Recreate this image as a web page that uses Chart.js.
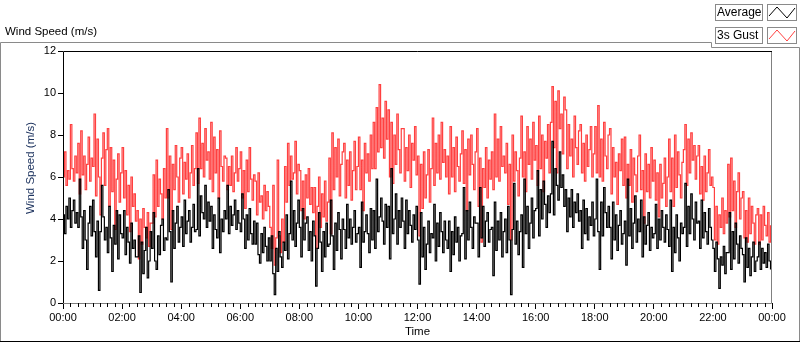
<!DOCTYPE html>
<html>
<head>
<meta charset="utf-8">
<script src="https://cdn.jsdelivr.net/npm/chart.js@4.4.1/dist/chart.umd.min.js"></script>
<style>
body { margin: 0; background: #fff; }
#wrap { width: 800px; height: 342px; }
</style>
</head>
<body>
<div id="wrap"><canvas id="windChart" width="800" height="342"></canvas></div>
<script>
// samples every 3 minutes, 00:00 -> 23:57
const sampleMinutes = 3;
const xTickLabels = ["00:00", "02:00", "04:00", "06:00", "08:00", "10:00", "12:00",
                     "14:00", "16:00", "18:00", "20:00", "22:00", "00:00"];
const yTicks = [0, 2, 4, 6, 8, 10, 12];

// average wind speed (black), ten values per half hour
const average = [
  4.2, 3.3, 4.6, 4.0, 5.0, 3.6, 4.4, 4.9, 3.8, 4.3,
  3.6, 5.9, 4.1, 2.6, 4.4, 3.0, 1.6, 3.8, 4.6, 3.2,
  4.9, 3.4, 2.2, 3.9, 0.6, 3.4, 5.6, 4.1, 3.0, 3.6,
  2.4, 4.6, 3.1, 1.5, 3.7, 2.8, 4.4, 2.1, 4.2, 3.3,
  3.1, 4.4, 2.3, 3.6, 2.9, 1.9, 3.8, 2.6, 3.0, 2.2,
  2.2, 3.2, 0.5, 2.9, 1.4, 2.5, 3.6, 1.2, 2.0, 3.4,
  2.6, 4.3, 2.0, 1.6, 3.2, 2.3, 3.7, 4.0, 2.5, 3.1,
  3.0, 5.4, 3.4, 1.0, 4.4, 2.6, 3.8, 4.6, 2.9, 3.6,
  4.1, 2.7, 4.9, 3.3, 3.9, 4.4, 2.9, 3.6, 4.7, 3.4,
  3.5, 6.4, 3.2, 5.1, 4.3, 4.0, 5.6, 3.6, 4.8, 3.9,
  4.6, 2.6, 4.2, 3.5, 3.1, 5.0, 2.4, 4.0, 3.4, 4.4,
  4.0, 5.6, 3.3, 4.6, 3.7, 4.2, 4.9, 3.5, 4.4, 3.8,
  3.4, 5.2, 4.0, 2.6, 4.2, 3.0, 4.5, 3.3, 2.8, 3.9,
  2.8, 3.8, 2.3, 1.9, 3.3, 2.4, 3.6, 2.7, 2.0, 3.1,
  2.0, 3.2, 1.4, 0.4, 2.6, 1.5, 3.4, 2.2, 1.7, 2.9,
  2.5, 4.2, 2.1, 3.3, 5.8, 3.0, 4.4, 2.7, 3.8, 4.9,
  3.6, 2.2, 4.5, 3.0, 3.8, 4.1, 2.5, 3.4, 2.0, 3.9,
  3.2, 0.8, 2.6, 4.3, 2.9, 1.5, 3.4, 2.2, 3.8, 2.7,
  2.8, 4.9, 3.2, 1.6, 3.8, 2.5, 4.3, 3.5, 2.1, 4.0,
  3.5, 2.6, 4.7, 3.1, 4.0, 2.8, 3.6, 4.4, 2.9, 3.3,
  3.6, 1.7, 4.8, 2.9, 3.4, 4.2, 3.3, 2.4, 4.5, 3.0,
  4.4, 2.6, 5.9, 3.4, 4.1, 5.0, 3.9, 2.8, 4.7, 3.6,
  4.6, 2.1, 6.4, 3.3, 4.0, 5.2, 2.8, 4.4, 3.6, 5.0,
  3.9, 2.6, 4.9, 3.3, 4.4, 3.7, 2.9, 4.2, 3.5, 4.6,
  3.0, 0.9, 4.3, 2.2, 3.6, 1.6, 2.8, 3.9, 2.4, 3.3,
  3.1, 4.7, 2.0, 3.8, 2.7, 4.3, 3.4, 2.4, 3.9, 3.0,
  2.6, 3.9, 1.5, 3.4, 2.3, 4.1, 2.9, 3.6, 2.0, 3.2,
  3.3, 5.5, 2.1, 4.4, 3.0, 4.8, 3.6, 2.6, 4.1, 3.8,
  3.8, 2.2, 5.5, 3.1, 4.6, 2.7, 3.9, 4.3, 2.9, 3.5,
  3.6, 1.3, 4.8, 2.5, 3.9, 3.0, 4.3, 2.2, 3.4, 4.0,
  2.4, 4.6, 3.0, 0.4, 3.5, 5.7, 2.8, 3.9, 2.3, 3.4,
  4.2, 1.7, 5.9, 3.3, 4.6, 2.6, 3.8, 5.0, 3.1, 4.4,
  4.5, 6.3, 3.2, 5.4, 4.0, 5.8, 4.7, 3.6, 5.1, 4.3,
  5.2, 7.7, 4.2, 6.4, 5.6, 4.9, 7.2, 5.5, 6.1, 4.6,
  5.4, 3.4, 5.0, 4.1, 5.4, 3.6, 4.8, 4.3, 5.2, 3.9,
  4.4, 2.6, 4.9, 3.3, 4.5, 3.0, 4.1, 3.7, 4.8, 3.2,
  4.0, 5.9, 3.4, 1.6, 4.8, 3.2, 5.5, 4.3, 3.6, 4.6,
  3.6, 2.1, 4.8, 3.0, 4.2, 2.5, 3.7, 4.4, 2.8, 3.3,
  3.9, 1.8, 5.9, 3.2, 4.5, 2.6, 3.8, 5.1, 2.9, 4.0,
  3.4, 4.9, 2.2, 4.1, 2.8, 3.7, 4.3, 2.5, 3.6, 3.1,
  3.3, 4.7, 2.6, 4.0, 3.0, 4.4, 3.6, 2.9, 4.2, 3.5,
  2.7, 4.9, 1.5, 3.6, 2.4, 4.2, 3.1, 2.0, 3.8, 3.3,
  3.6, 5.7, 2.7, 4.6, 3.3, 5.2, 4.0, 3.0, 4.8, 3.8,
  3.9, 2.6, 4.9, 3.1, 4.3, 3.4, 2.8, 4.5, 3.6, 3.0,
  2.6, 1.5, 2.9, 2.1, 0.7, 2.2, 1.8, 2.7, 1.4, 2.4,
  2.4, 4.3, 1.6, 3.4, 2.1, 3.8, 2.8, 1.9, 3.2, 2.6,
  2.3, 1.0, 3.1, 1.7, 2.6, 1.3, 2.2, 2.9, 1.5, 2.0,
  2.2, 2.9, 1.6, 2.6, 1.9, 2.4, 1.7, 2.8, 2.0, 1.6
];

// 3 second gust (red)
const gust = [
  6.0, 7.2, 5.6, 6.3, 5.9, 8.5, 6.4, 5.8, 7.0, 6.2,
  7.6, 5.2, 8.2, 6.1, 7.0, 5.4, 6.6, 7.9, 5.8, 6.9,
  6.5, 9.0, 5.1, 7.8, 6.0, 4.2, 6.9, 8.1, 5.6, 7.3,
  8.3, 4.6, 7.4, 5.3, 6.8, 3.5, 5.9, 7.1, 4.8, 6.2,
  7.4, 5.0, 6.3, 4.2, 5.6, 3.4, 6.0, 4.6, 5.2, 3.9,
  4.4, 2.1, 4.0, 2.8, 4.5, 3.6, 3.1, 4.3, 2.7, 3.8,
  3.8, 6.1, 4.1, 6.8, 4.6, 5.9, 5.2, 4.0, 6.4, 5.0,
  8.3, 5.0, 7.0, 3.5, 6.6, 5.4, 7.5, 6.0, 4.8, 6.9,
  7.4, 5.2, 6.7, 5.9, 7.1, 5.0, 6.2, 7.5, 5.6, 6.4,
  8.1, 5.7, 8.8, 6.4, 7.6, 6.0, 8.3, 6.8, 7.2, 5.9,
  8.6, 5.3, 7.9, 6.2, 7.3, 5.0, 8.2, 6.5, 5.8, 7.0,
  6.9, 5.4, 6.5, 5.6, 7.0, 5.3, 6.2, 7.4, 5.8, 6.4,
  7.2, 5.0, 6.3, 4.5, 6.8, 5.3, 7.4, 5.9, 4.9, 6.1,
  5.8, 4.2, 6.2, 4.8, 5.1, 4.0, 5.6, 4.4, 5.3, 4.6,
  3.6, 2.6, 5.6, 1.8, 3.1, 6.8, 3.2, 2.4, 4.0, 2.9,
  6.5, 4.8, 7.6, 5.6, 7.0, 5.9, 6.2, 7.7, 5.2, 6.6,
  6.3, 4.4, 5.8, 4.0, 6.1, 5.0, 6.4, 4.7, 5.5, 4.3,
  5.5, 2.6, 4.6, 6.0, 3.6, 5.2, 4.1, 5.8, 3.9, 4.8,
  6.9, 3.3, 8.1, 5.4, 7.4, 6.0, 7.8, 5.1, 6.6, 7.2,
  7.6, 5.0, 6.8, 5.6, 7.2, 4.9, 6.3, 7.7, 5.4, 6.5,
  7.9, 5.4, 6.8, 4.4, 7.6, 6.2, 7.1, 5.8, 8.0, 6.4,
  8.6, 6.4, 9.3, 7.2, 10.4, 7.4, 8.8, 6.9, 9.6, 7.8,
  9.2, 6.0, 8.6, 5.7, 8.0, 6.6, 9.0, 7.3, 6.2, 8.3,
  8.3, 5.8, 7.4, 6.3, 8.0, 5.5, 7.6, 6.8, 8.4, 6.1,
  7.0, 3.2, 6.6, 4.5, 7.2, 5.0, 6.1, 7.3, 4.8, 6.4,
  8.8, 5.6, 7.6, 6.2, 8.0, 5.9, 8.6, 6.7, 7.3, 6.0,
  7.0, 5.2, 8.4, 6.0, 7.4, 5.3, 7.9, 6.5, 5.8, 7.1,
  8.2, 5.7, 7.3, 4.4, 7.8, 6.1, 8.0, 6.6, 5.4, 7.2,
  8.3, 4.6, 6.9, 2.9, 6.4, 5.5, 7.4, 5.0, 6.8, 5.9,
  7.2, 5.4, 9.0, 6.0, 7.8, 5.8, 8.4, 6.5, 7.0, 6.2,
  7.6, 4.7, 6.6, 3.0, 8.0, 5.8, 7.2, 6.3, 5.1, 6.9,
  8.9, 6.0, 7.2, 5.3, 8.4, 6.6, 7.8, 5.9, 8.6, 6.8,
  7.5, 5.6, 8.9, 6.4, 8.0, 5.3, 7.7, 6.9, 8.5, 6.2,
  8.6, 10.3, 7.4, 9.6, 6.2, 10.1, 8.3, 9.0, 7.1, 9.8,
  9.2, 6.4, 8.5, 7.0, 7.8, 6.0, 8.9, 7.4, 6.6, 8.2,
  8.5, 6.2, 7.6, 5.8, 8.0, 6.5, 7.3, 8.4, 6.0, 7.1,
  8.4, 6.2, 9.4, 6.0, 7.8, 5.8, 8.6, 7.0, 6.4, 8.0,
  8.3, 5.2, 7.4, 6.0, 6.7, 4.7, 7.1, 6.3, 7.8, 5.6,
  7.9, 5.0, 6.6, 5.6, 7.3, 4.8, 6.9, 6.1, 5.3, 7.0,
  8.0, 5.4, 6.3, 3.8, 7.1, 5.3, 6.6, 5.0, 7.4, 5.8,
  6.8, 4.9, 6.2, 4.1, 6.6, 5.0, 5.7, 6.9, 4.6, 6.0,
  7.8, 5.3, 6.9, 4.6, 8.0, 5.5, 7.2, 6.1, 5.0, 6.7,
  7.3, 8.5, 5.6, 7.8, 6.2, 8.1, 6.8, 7.5, 5.9, 7.0,
  7.5, 5.2, 6.5, 4.9, 7.0, 5.3, 6.2, 7.3, 5.6, 6.0,
  5.5, 3.0, 4.6, 2.8, 4.2, 3.6, 5.0, 3.3, 4.4, 3.8,
  6.6, 4.1, 6.9, 4.4, 5.8, 3.6, 5.3, 6.2, 4.0, 5.0,
  5.3, 3.1, 4.4, 2.9, 5.0, 3.3, 4.6, 3.8, 2.8, 4.2,
  4.5, 2.8, 4.2, 3.0, 4.6, 3.7, 3.2, 4.3, 2.9, 3.7
];

const FONT = "'Liberation Sans', Arial, sans-serif";

function toPoints(values) {
    return values.map((v, i) => ({ x: i * sampleMinutes, y: v }));
}

// frame, titles, legend boxes and minor ticks, LabVIEW style
const labviewFrame = {
    id: 'labviewFrame',
    afterDraw(chart) {
        const ctx = chart.ctx;
        const area = chart.chartArea;
        const xs = chart.scales.x;
        ctx.save();
        ctx.lineWidth = 1;

        // outer panel border
        ctx.strokeStyle = '#8a8a8a';
        ctx.beginPath();
        ctx.moveTo(0.5, 341);
        ctx.lineTo(0.5, 42.5);
        ctx.lineTo(711.5, 42.5);
        ctx.lineTo(711.5, 47.5);
        ctx.lineTo(799.5, 47.5);
        ctx.lineTo(799.5, 341);
        ctx.stroke();
        ctx.strokeStyle = '#000';
        ctx.beginPath();
        ctx.moveTo(0, 341.5);
        ctx.lineTo(800, 341.5);
        ctx.stroke();

        // plot area border: dark top/left, grey bottom/right
        ctx.strokeStyle = '#808080';
        ctx.beginPath();
        ctx.moveTo(area.left, area.bottom + 0.5);
        ctx.lineTo(area.right - 0.5, area.bottom + 0.5);
        ctx.lineTo(area.right - 0.5, area.top);
        ctx.stroke();
        ctx.strokeStyle = '#000';
        ctx.beginPath();
        ctx.moveTo(area.left + 0.5, area.bottom);
        ctx.lineTo(area.left + 0.5, area.top + 0.5);
        ctx.lineTo(area.right, area.top + 0.5);
        ctx.stroke();

        // minor ticks every 15 minutes
        ctx.beginPath();
        for (let m = 15; m < 1440; m += 15) {
            if (m % 120 === 0) continue;
            const px = Math.round(xs.getPixelForValue(m)) + 0.5;
            ctx.moveTo(px, area.bottom);
            ctx.lineTo(px, area.bottom + 4);
        }
        ctx.stroke();

        // titles
        ctx.fillStyle = '#000';
        ctx.font = "11.5px " + FONT;
        ctx.textBaseline = 'middle';
        ctx.textAlign = 'left';
        ctx.fillText('Wind Speed (m/s)', 5, 32);
        ctx.textAlign = 'center';
        ctx.fillText('Time', (area.left + area.right) / 2, 332);

        ctx.save();
        ctx.translate(31, 168);
        ctx.rotate(-Math.PI / 2);
        ctx.fillStyle = '#1f3560';
        ctx.fillText('Wind Speed (m/s)', 0, 0);
        ctx.restore();

        // legend
        const items = [
            { label: 'Average', color: '#000', y: 4 },
            { label: '3s Gust', color: '#ff4040', y: 27 }
        ];
        items.forEach(it => {
            ctx.fillStyle = '#fff';
            ctx.fillRect(715, it.y, 48, 17);
            ctx.fillRect(767, it.y, 30, 17);
            ctx.strokeStyle = '#8a8a8a';
            ctx.strokeRect(715.5, it.y + 0.5, 47, 16);
            ctx.strokeRect(767.5, it.y + 0.5, 29, 16);
            ctx.fillStyle = '#000';
            ctx.textAlign = 'left';
            ctx.font = "12px " + FONT;
            ctx.fillText(it.label, 717, it.y + 9);
            ctx.strokeStyle = it.color;
            ctx.beginPath();
            ctx.moveTo(769, it.y + 12);
            ctx.lineTo(777, it.y + 3);
            ctx.lineTo(787, it.y + 14);
            ctx.lineTo(795, it.y + 4);
            ctx.stroke();
        });
        ctx.restore();
    }
};

const chart = new Chart(document.getElementById('windChart'), {
    type: 'line',
    data: {
        datasets: [{
            label: 'Average',
            data: toPoints(average),
            borderColor: '#000000',
            borderWidth: 1.2,
            pointRadius: 0,
            stepped: true,
            fill: false
        }, {
            label: '3s Gust',
            data: toPoints(gust),
            borderColor: '#ff4040',
            borderWidth: 1.2,
            pointRadius: 0,
            stepped: true,
            fill: false
        }]
    },
    options: {
        responsive: false,
        animation: false,
        layout: { padding: { left: 0, right: 28, top: 51, bottom: 0 } },
        plugins: {
            legend: { display: false },
            tooltip: { enabled: false }
        },
        scales: {
            x: {
                type: 'linear',
                min: 0,
                max: 1440,
                afterFit: s => { s.height = 39; },
                afterBuildTicks: s => {
                    s.ticks = xTickLabels.map((t, i) => ({ value: i * 120 }));
                },
                ticks: {
                    autoSkip: false,
                    maxRotation: 0,
                    padding: 2,
                    color: '#000',
                    font: { family: FONT, size: 11 },
                    callback: (v, i) => xTickLabels[i]
                },
                grid: { drawOnChartArea: false, drawTicks: true, tickLength: 6, color: '#000' },
                border: { display: false }
            },
            y: {
                min: 0,
                max: 12,
                afterFit: s => { s.width = 63; },
                afterBuildTicks: s => {
                    s.ticks = yTicks.map(v => ({ value: v }));
                },
                ticks: {
                    padding: 2,
                    color: '#000',
                    font: { family: FONT, size: 11 }
                },
                grid: { drawOnChartArea: false, drawTicks: true, tickLength: 5, color: '#000' },
                border: { display: false }
            }
        }
    },
    plugins: [labviewFrame]
});
</script>
</body>
</html>
